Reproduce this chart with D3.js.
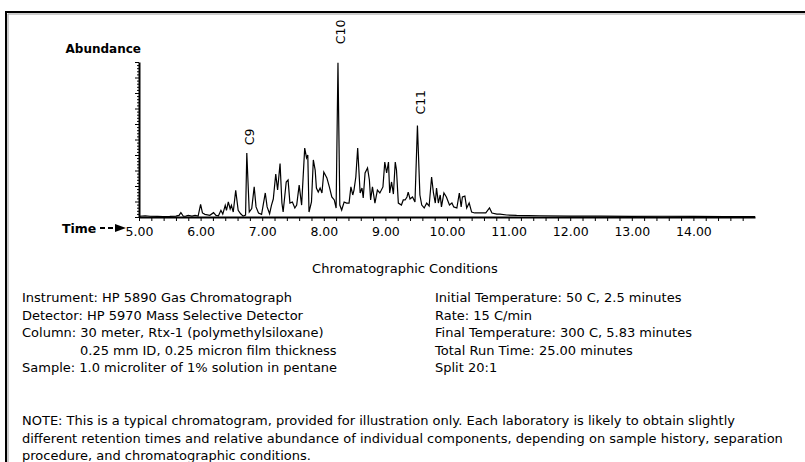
<!DOCTYPE html>
<html><head><meta charset="utf-8">
<script src="https://cdn.jsdelivr.net/npm/d3@7"></script>
<style>
body{margin:0;background:#fff;}
svg{display:block;}
text{font-family:"DejaVu Sans",sans-serif;fill:#000;}
</style></head><body>
<svg id="c" width="805" height="462"></svg>
<script>
// ---- data (retention time in minutes, relative abundance in %) ----
const times = [5.00,5.10,5.18,5.30,5.39,5.50,5.60,5.65,5.68,5.72,5.76,5.80,5.86,5.91,5.96,
6.00,6.03,6.07,6.15,6.21,6.25,6.29,6.33,6.36,6.40,6.42,6.45,6.48,6.50,6.53,6.57,6.61,6.65,6.69,6.73,
6.75,6.79,6.83,6.87,6.90,6.94,6.99,7.05,7.08,7.12,7.15,7.18,7.22,7.25,7.29,7.32,7.34,7.39,7.42,7.45,
7.49,7.53,7.56,7.60,7.64,7.69,7.72,7.74,7.76,7.80,7.83,7.86,7.88,7.91,7.94,7.97,8.00,8.05,8.09,8.13,
8.17,8.20,8.23,8.26,8.29,8.33,8.37,8.41,8.44,8.47,8.49,8.52,8.55,8.59,8.62,8.64,8.67,8.71,8.74,8.76,
8.79,8.83,8.87,8.91,8.96,8.99,9.02,9.05,9.07,9.10,9.13,9.16,9.18,9.21,9.26,9.29,9.32,9.35,9.37,9.40,
9.44,9.48,9.52,9.56,9.59,9.63,9.67,9.71,9.75,9.78,9.81,9.83,9.86,9.89,9.91,9.95,9.99,10.04,10.08,10.11,
10.16,10.20,10.23,10.25,10.29,10.32,10.36,10.40,10.45,10.54,10.59,10.63,10.69,10.73,10.81,10.86,10.97,
11.13,11.50,12.00,12.50,13.00,13.50,14.00,14.50,15.00];
const abundance = [0.5,0.8,0.5,0.4,0.3,0.4,0.6,1.0,2.8,0.5,0.6,1.0,0.6,1.0,0.6,
8.2,2.6,1.7,1.1,2.8,1.0,0.8,4.3,1.9,7.5,4.3,9.7,5.2,7.5,3.2,17.2,4.3,2.1,0.6,1.3,
41.3,3.2,5.4,19.4,6.5,2.6,1.7,15.5,6.5,2.1,7.5,11.6,27.7,17.4,34.5,9.0,3.2,22.6,23.9,9.0,
9.7,5.8,7.7,20.6,7.7,44.5,38.1,40.0,3.2,9.7,36.8,30.3,18.7,16.1,18.7,15.5,29.0,25.2,19.4,12.9,
11.0,5.8,99.5,7.7,4.5,9.7,9.0,9.0,19.4,14.2,17.4,25.8,44.5,15.5,18.7,12.3,28.4,31.6,23.9,11.0,
19.4,9.0,17.4,15.5,19.4,35.5,28.4,35.5,15.5,22.6,14.8,35.5,30.3,9.0,7.7,11.0,11.0,12.9,16.1,11.6,
12.9,9.7,59.0,14.2,7.7,5.8,9.0,7.1,25.8,15.5,9.0,18.7,9.0,14.2,6.5,15.5,12.9,7.7,9.0,6.5,
5.8,15.5,6.5,12.9,13.5,5.8,9.0,3.2,2.6,2.6,2.6,2.6,5.8,2.6,1.9,1.9,1.3,
1.0,0.8,0.6,0.6,0.4,0.5,0.4,0.3,0.3];
const peakNames = ["C9","C10","C11"];
const peakTimes = [6.75, 8.23, 9.52];
const xTickValues = [5,6,7,8,9,10,11,12,13,14];
const xTickLabels = ["5.00","6.00","7.00","8.00","9.00","10.00","11.00","12.00","13.00","14.00"];
const yAxisTitle = "Abundance";
const xAxisTitle = "Time";
const conditionsTitle = "Chromatographic Conditions";
const conditionsLeft = ["Instrument: HP 5890 Gas Chromatograph","Detector: HP 5970 Mass Selective Detector",
  "Column: 30 meter, Rtx-1 (polymethylsiloxane)","0.25 mm ID, 0.25 micron film thickness",
  "Sample: 1.0 microliter of 1% solution in pentane"];
const conditionsRight = ["Initial Temperature: 50 C, 2.5 minutes","Rate: 15 C/min",
  "Final Temperature: 300 C, 5.83 minutes","Total Run Time: 25.00 minutes","Split 20:1"];
const noteLines = ["NOTE: This is a typical chromatogram, provided for illustration only. Each laboratory is likely to obtain slightly",
  "different retention times and relative abundance of individual components, depending on sample history, separation",
  "procedure, and chromatographic conditions."];

// ---- drawing ----
const svg = d3.select("#c");
const W = 805, H = 462;
svg.append("rect").attr("width",W).attr("height",H).attr("fill","#fff");

// frame (top and left edges)
svg.append("path").attr("d","M6,462V12H805").attr("fill","none").attr("stroke","#000").attr("stroke-width",2);
svg.append("path").attr("d","M8,462V14H805").attr("fill","none").attr("stroke","#999").attr("stroke-width",1);

const x = d3.scaleLinear().domain([5,15]).range([139,755]);
const y = d3.scaleLinear().domain([0,100]).range([217,62]);

// x axis
const xMinor = d3.range(0,50).map(i => 5 + i*0.2);
const gx = svg.append("g").attr("transform","translate(0,217)")
  .call(d3.axisBottom(x).tickValues(xMinor).tickSize(4).tickSizeOuter(0).tickFormat(()=>""));
gx.select(".domain").attr("stroke-width",2);
gx.selectAll(".tick line").attr("stroke-width",1);
const gxl = svg.append("g").attr("transform","translate(0,217)")
  .call(d3.axisBottom(x).tickValues(xTickValues).tickSize(0).tickPadding(10)
    .tickFormat((d,i)=>xTickLabels[i]));
gxl.select(".domain").remove();
gxl.selectAll("text").attr("font-size",12.5).attr("font-family",null);

// y axis
const yTicks = d3.range(0,51).map(i => i*2);
const gy = svg.append("g").attr("transform","translate(139,0)")
  .call(d3.axisLeft(y).tickValues(yTicks).tickSizeOuter(0).tickFormat(()=>""));
gy.select(".domain").attr("stroke-width",2);
gy.selectAll(".tick line").attr("x2", d => (d % 10 === 0) ? -4 : -2).attr("stroke-width",1);

// axis titles
svg.append("text").attr("x",141).attr("y",53).attr("text-anchor","end")
  .attr("font-weight","bold").attr("font-size",12).text(yAxisTitle);
svg.append("text").attr("x",62).attr("y",233)
  .attr("font-weight","bold").attr("font-size",12.5).text(xAxisTitle);
svg.append("path").attr("d","M100,228H105M108,228H113").attr("stroke","#000").attr("stroke-width",1.8);
svg.append("path").attr("d","M115,224L126,228L115,232Z").attr("fill","#000");

// trace
const pts = times.map((t,i)=>[t, abundance[i]]);
svg.append("path").datum(pts)
  .attr("d", d3.line().x(d=>x(d[0])).y(d=>y(d[1])))
  .attr("fill","none").attr("stroke","#000").attr("stroke-width",1.2).attr("stroke-linejoin","miter");

// peak labels
peakNames.forEach((name,i)=>{
  const idx = d3.minIndex(times, t => Math.abs(t - peakTimes[i]));
  const px = x(times[idx]) + 3, py = y(abundance[idx]*1.12);
  svg.append("text").attr("transform",`translate(${px},${py}) rotate(-90)`)
    .attr("dominant-baseline","central").attr("font-size",12.5).text(name);
});

// conditions text
svg.append("text").attr("x",405).attr("y",273).attr("text-anchor","middle").attr("font-size",13).text(conditionsTitle);
const rowY = d3.scaleLinear().domain([0,1]).range([302,319.5]);
conditionsLeft.forEach((s,i)=>{
  svg.append("text").attr("x", i===3 ? 80 : 22).attr("y",rowY(i)).attr("font-size",13).text(s);
});
conditionsRight.forEach((s,i)=>{
  svg.append("text").attr("x",435).attr("y",rowY(i)).attr("font-size",13).text(s);
});
noteLines.forEach((s,i)=>{
  svg.append("text").attr("x",22).attr("y",425+i*17.5).attr("font-size",13).text(s);
});
</script>
</body></html>
